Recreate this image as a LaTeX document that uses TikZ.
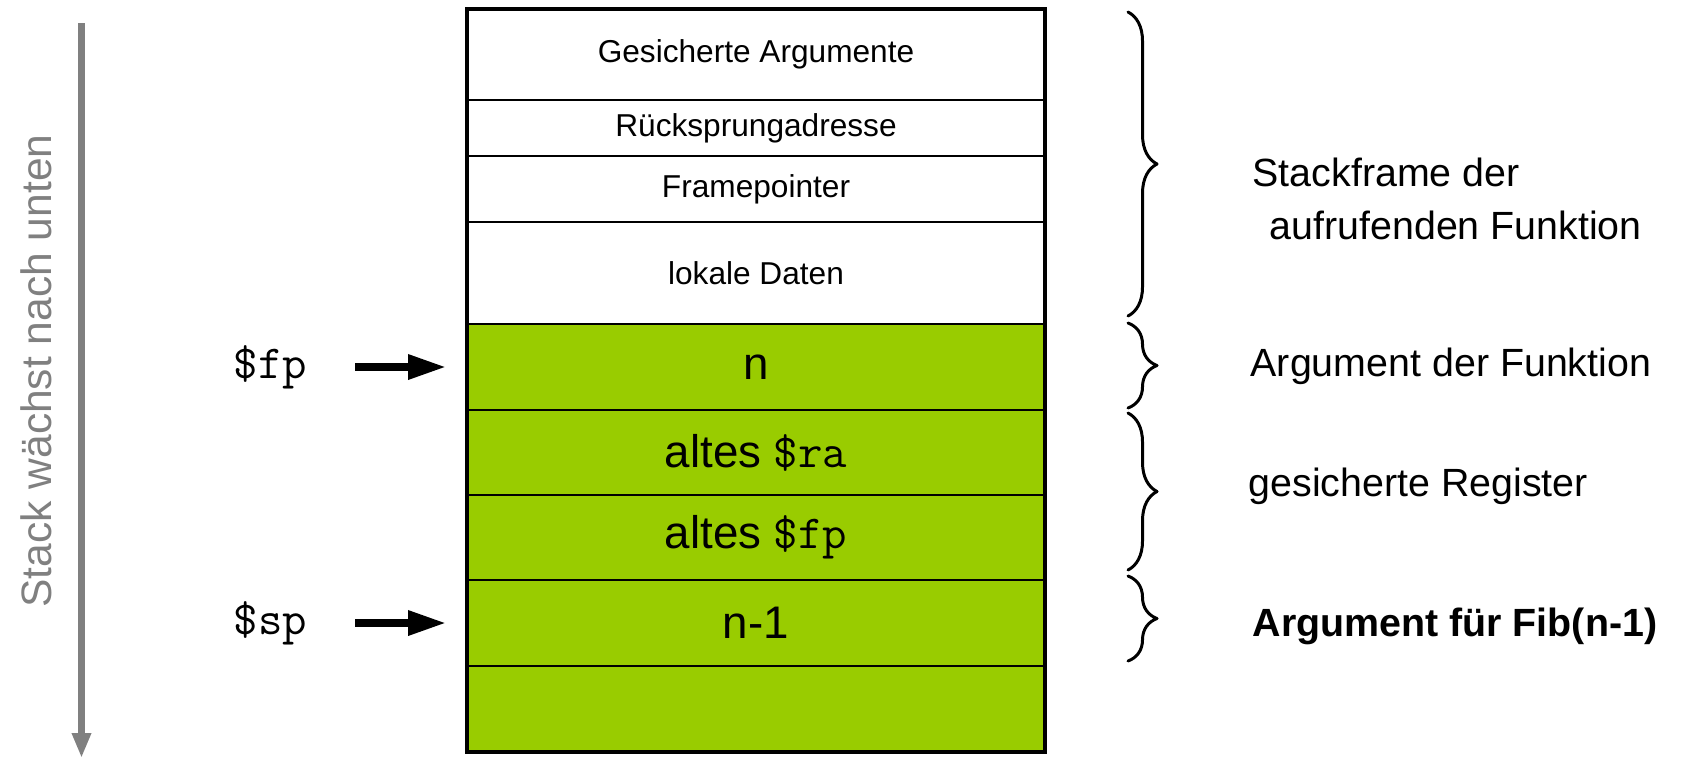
\documentclass[tikz,border=0pt]{standalone}
\usepackage{fontspec}
\setmainfont{Liberation Sans}
\usepackage{tikz}
\usetikzlibrary{positioning,arrows.meta,decorations.pathreplacing}
\definecolor{stackgreen}{rgb}{0.6,0.8,0}
\definecolor{growgray}{rgb}{0.5,0.5,0.5}

% register names in typewriter type
\newcommand{\regname}[1]{{\ttfamily\fontsize{13.5}{14}\selectfont\$#1}}

\tikzset{
    cell/.style={draw, line width=0.7pt, inner sep=0pt, outer sep=0pt,
        minimum width=5.78cm, font=\fontsize{9}{10}\selectfont},
    greencell/.style={cell, fill=stackgreen, minimum height=8.6mm,
        font=\fontsize{13}{14}\selectfont},
    pointer/.style={-{Triangle[length=3.9mm,width=2.3mm]}, line width=2.5pt, line cap=butt},
    stackbrace/.style={decorate, decoration={brace, amplitude=2.9mm}, line width=0.85pt},
    remark/.style={anchor=west, inner sep=0pt, font=\fontsize{11.2}{15}\selectfont}
}

\begin{document}
\begin{tikzpicture}[line cap=round,line join=round,x=1.0cm,y=1.0cm]
    \useasboundingbox (0,0) rectangle (17.04,7.58);

    % direction of growth
    \coordinate (growtop) at (0.815,7.35);
    \coordinate (growbot) at (0.815,0.0);
    \draw [growgray, line width=1.9pt, line cap=butt,
        -{Triangle[length=2.5mm,width=1.8mm]}] (growtop) -- (growbot);
    \node [rotate=90, growgray, font=\fontsize{12.1}{13}\selectfont] (grow) at (0.36,3.87) {Stack wächst nach unten};

    % frame of the caller
    \node [cell, anchor=north, minimum height=9.1mm] (args) at (7.56,7.49) {Gesicherte Argumente};
    \node [cell, below=0pt of args, minimum height=5.6mm] (retaddr) {Rücksprungadresse};
    \node [cell, below=0pt of retaddr, minimum height=6.6mm] (framept) {Framepointer};
    \node [cell, below=0pt of framept, minimum height=10.2mm] (locals) {lokale Daten};

    % frame of Fib(n)
    \node [greencell, below=0pt of locals] (argn) {n};
    \node [greencell, below=0pt of argn, minimum height=8.5mm] (oldra) {altes \regname{ra}};
    \node [greencell, below=0pt of oldra, minimum height=8.5mm] (oldfp) {altes \regname{fp}};
    \node [greencell, below=0pt of oldfp] (argnm) {n-1};
    \node [greencell, below=0pt of argnm] (free) {};

    \draw [line width=1.3pt, line join=miter] (args.north west) rectangle (free.south east);

    % frame and stack pointer
    \node [left=15.9mm of argn, inner sep=0pt] (fp) {\regname{fp}};
    \node [left=15.9mm of argnm, inner sep=0pt] (sp) {\regname{sp}};
    \draw [pointer] ([xshift=4.7mm]fp.east) -- ([xshift=-2mm]argn.west);
    \draw [pointer] ([xshift=4.7mm]sp.east) -- ([xshift=-2mm]argnm.west);

    % braces on the right
    \draw [stackbrace] ([xshift=8.3mm,yshift=-0.3mm]args.north east) -- ([xshift=8.3mm,yshift=0.8mm]locals.south east);
    \draw [stackbrace] ([xshift=8.3mm,yshift=0.1mm]argn.north east) -- ([xshift=8.3mm,yshift=0.2mm]argn.south east);
    \draw [stackbrace] ([xshift=8.3mm,yshift=-0.3mm]oldra.north east) -- ([xshift=8.3mm,yshift=1.0mm]oldfp.south east);
    \draw [stackbrace] ([xshift=8.3mm,yshift=0.4mm]argnm.north east) -- ([xshift=8.3mm,yshift=0.5mm]argnm.south east);

    \node [remark, align=left] (caller) at (12.52,5.59) {Stackframe der\\\hspace*{1.7mm}aufrufenden Funktion};
    \node [remark] (argof) at (12.50,3.92) {Argument der Funktion};
    \node [remark] (saved) at (12.48,2.72) {gesicherte Register};
    \node [remark, font=\fontsize{11.2}{15}\selectfont\bfseries] (argfor) at (12.52,1.32) {Argument für Fib(n-1)};
\end{tikzpicture}
\end{document}
